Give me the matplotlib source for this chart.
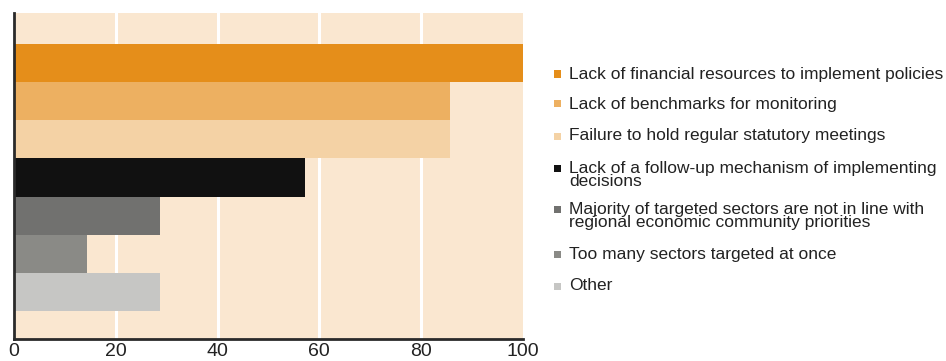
import matplotlib.pyplot as plt
from matplotlib.patches import Rectangle

# data
labels = [
    "Lack of financial resources to implement policies",
    "Lack of benchmarks for monitoring",
    "Failure to hold regular statutory meetings",
    "Lack of a follow-up mechanism of implementing\ndecisions",
    "Majority of targeted sectors are not in line with\nregional economic community priorities",
    "Too many sectors targeted at once",
    "Other",
]
values = [100, 85.7, 85.7, 57.1, 28.6, 14.3, 28.6]
colors = ["#E58E1A", "#EDB061", "#F4D2A5", "#111111", "#71716F", "#8A8A86", "#C6C6C4"]
ticks = [0, 20, 40, 60, 80, 100]

plt.rcParams["font.family"] = ["Liberation Sans", "DejaVu Sans"]

W, H = 946, 361
fig = plt.figure(figsize=(W / 100, H / 100), dpi=100)
ax = fig.add_axes([0.0148, 0.061, 0.538, 0.903])
ax.set_facecolor("#FAE7D0")

ypos = list(range(len(values) - 1, -1, -1))
ax.barh(ypos, values, height=1.0, color=colors, zorder=2)

ax.set_xlim(0, 100)
ax.set_ylim(-1.23, 7.31)
ax.set_xticks(ticks)
ax.set_yticks([])
for t in ticks[1:-1]:
    ax.axvline(t, color="white", lw=2.2, zorder=1)

ax.tick_params(axis="x", length=0, pad=3, labelsize=14, colors="#222222")
for s in ["top", "right"]:
    ax.spines[s].set_visible(False)
for s in ["left", "bottom"]:
    ax.spines[s].set_color("#2a2a2a")
    ax.spines[s].set_linewidth(2)

# legend, drawn by hand (pixel rows)
leg_y = [74, 104, 136, 175, 216, 254, 286]
row_mark = [74, 104, 136, 168, 209, 254, 286]
for lab, c, y, ym in zip(labels, colors, leg_y, row_mark):
    fig.patches.append(Rectangle(((554) / W, 1 - (ym + 3.5) / H), 7 / W, 7 / H,
                                 transform=fig.transFigure, color=c, lw=0))
    fig.text(569 / W, 1 - y / H, lab, fontsize=12.5, va="center", ha="left",
             color="#222222", linespacing=0.85)

fig.savefig("out.png", dpi=100)
